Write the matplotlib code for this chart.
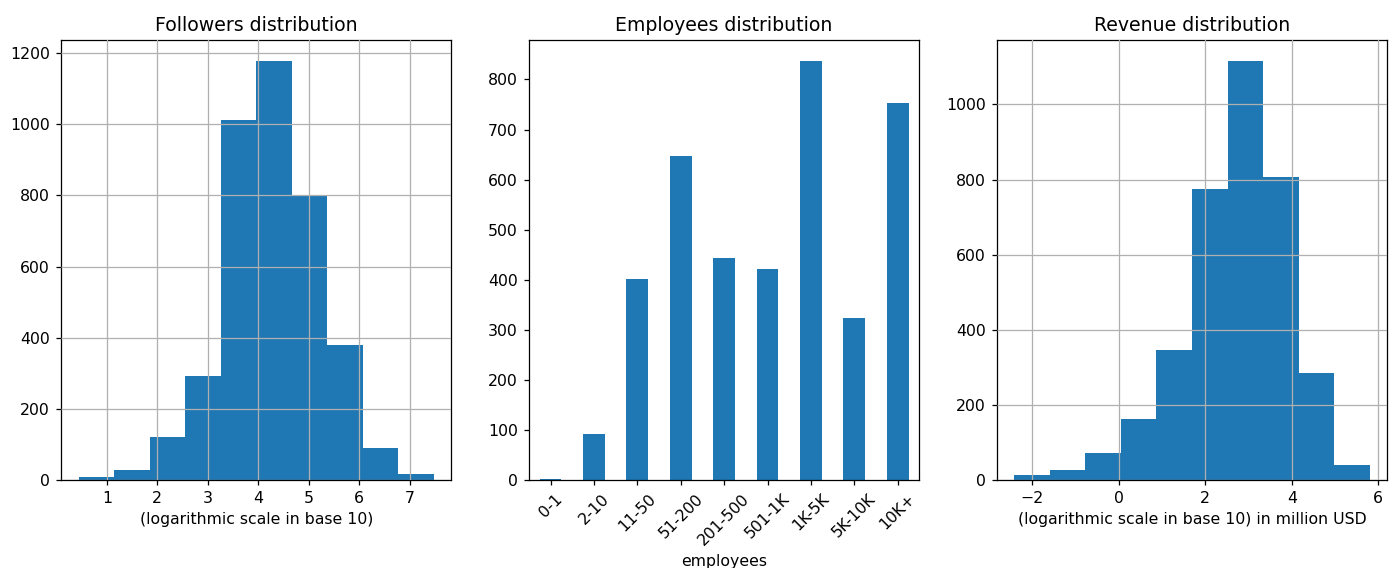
import matplotlib
matplotlib.use("Agg")
import matplotlib.pyplot as plt
import numpy as np

# histogram of log10(followers): bin edges and counts
followers_edges = [0.44, 1.14, 1.85, 2.55, 3.26, 3.96, 4.66, 5.37, 6.07, 6.78, 7.48]
followers_counts = [7, 28, 122, 292, 1011, 1178, 797, 380, 90, 16]

# company size buckets
employee_labels = ["0-1", "2-10", "11-50", "51-200", "201-500", "501-1K", "1K-5K", "5K-10K", "10K+"]
employee_counts = [2, 92, 402, 648, 443, 422, 837, 324, 753]

# histogram of log10(revenue in million USD)
revenue_edges = [-2.41, -1.59, -0.77, 0.05, 0.87, 1.70, 2.52, 3.34, 4.16, 4.98, 5.80]
revenue_counts = [12, 27, 73, 162, 345, 776, 1116, 806, 286, 40]

DPI = 113
fig, (ax1, ax2, ax3) = plt.subplots(1, 3, figsize=(1394 / DPI, 568 / DPI), dpi=DPI)
fig.subplots_adjust(left=0.0437, right=0.9952, bottom=0.155, top=0.9296, wspace=0.198)

ax1.hist(followers_edges[:-1], bins=followers_edges, weights=followers_counts, color="#1f77b4")
ax1.grid(True)
ax1.set_axisbelow(False)
ax1.set_title("Followers distribution")
ax1.set_xlabel("(logarithmic scale in base 10)")

x = np.arange(len(employee_labels))
ax2.bar(x, employee_counts, width=0.5, color="#1f77b4")
ax2.set_xticks(x)
ax2.set_xticklabels(employee_labels, rotation=45)
ax2.set_xlim(-0.5, len(employee_labels) - 0.5)
ax2.set_title("Employees distribution")
ax2.set_xlabel("employees")

ax3.hist(revenue_edges[:-1], bins=revenue_edges, weights=revenue_counts, color="#1f77b4")
ax3.grid(True)
ax3.set_axisbelow(False)
ax3.set_title("Revenue distribution")
ax3.set_xlabel("(logarithmic scale in base 10) in million USD")

fig.savefig("out.png", dpi=DPI)
